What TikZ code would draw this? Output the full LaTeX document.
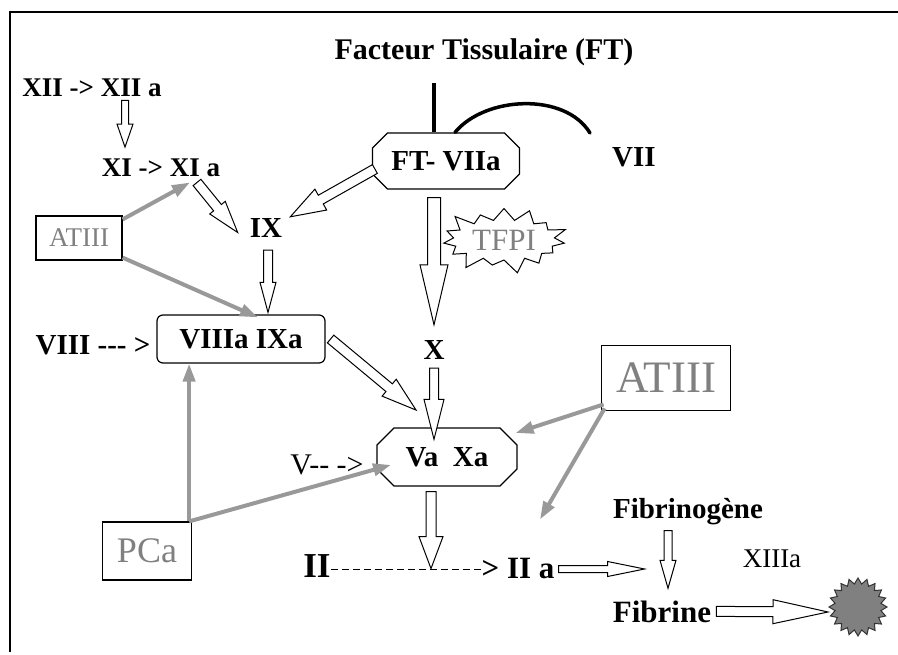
\documentclass[tikz,border=0pt]{standalone}
\usepackage{fontspec}
\setmainfont{Liberation Serif}
\usetikzlibrary{positioning, calc, arrows.meta, shapes.misc, shapes.symbols, shapes.geometric}

\newcommand\corps[1]{\fontsize{#1}{#1}\selectfont}
% fleche creuse : depart, arrivee, demi-tige, demi-tete, longueur tete
\newcommand\fleche[5]{%
  \coordinate (fa) at (#1);
  \coordinate (fb) at (#2);
  \coordinate (fh) at ($(fb)!#5pt!(fa)$);
  \draw[creux] ($(fa)!#3pt!90:(fb)$) -- ($(fh)!#3pt!90:(fb)$) -- ($(fh)!#4pt!90:(fb)$) -- (fb)
    -- ($(fh)!#4pt!-90:(fb)$) -- ($(fh)!#3pt!-90:(fb)$) -- ($(fa)!#3pt!-90:(fb)$) -- cycle;
}

\begin{document}
\begin{tikzpicture}[x=1pt, y=-1pt,
    lbl/.style={font=\bfseries\corps{29}, inner sep=0pt, anchor=base},
    fin/.style={font=\corps{27}, inner sep=0pt, anchor=base},
    boite/.style={draw, line width=1.2pt, inner sep=0pt},
    gris/.style={boite, text=black!50},
    coin/.style={boite, chamfered rectangle, font=\bfseries\corps{29}},
    creux/.style={draw, fill=white, line width=1pt, line join=miter},
    inhib/.style={draw=black!40, line width=4pt, -{Triangle[length=18pt, width=12pt]}},
    trait/.style={line width=3.5pt}]
        \useasboundingbox (0,0) rectangle (898,655);
        \draw[line width=1.2pt] (10,652) -- (10,12) -- (898,12);

        % voie extrinseque
        \node[lbl, font=\bfseries\corps{30}] (ft) at (484,60) {Facteur Tissulaire (FT)};
        \node[coin, chamfered rectangle xsep=6pt, chamfered rectangle ysep=9pt,
            minimum width=147pt, minimum height=56pt] (ftv) at (446,161) {FT- VIIa};
        \node[lbl] (vii) at (634,167) {VII};
        \node[starburst, draw, line width=1pt, starburst points=15, starburst point height=16pt,
            minimum width=118pt, minimum height=66pt, inner sep=4pt, text=black!50,
            font=\corps{31}] (tfpi) at (504,240) {TFPI};

        % voie intrinseque
        \node[lbl, font=\bfseries\corps{27}] (xii) at (92,97) {XII -> XII a};
        \node[lbl, font=\bfseries\corps{27}] (xi) at (161,177) {XI -> XI a};
        \node[gris, minimum width=86pt, minimum height=44pt, font=\corps{27}] (atsmall) at (79,238) {ATIII};
        \node[lbl] (ix) at (266,238) {IX};
        \node[boite, rounded corners=6pt, minimum width=168pt, minimum height=48pt,
            font=\bfseries\corps{29}] (viii) at (241,339) {VIIIa IXa};
        \node[lbl] (viiilbl) at (93,355) {VIII -{}-{}- >};
        \node[lbl] (x) at (434,360) {X};

        % prothrombinase
        \node[coin, chamfered rectangle xsep=8pt, chamfered rectangle ysep=9pt,
            minimum width=140pt, minimum height=58pt] (vaxa) at (447,457) {Va\enspace Xa};
        \node[lbl, font=\corps{30}] (vlbl) at (327,475) {V-{}- ->};
        \node[gris, minimum width=129pt, minimum height=65pt, line width=1.8pt,
            font=\corps{45}] (atbig) at (666,378) {ATIII};
        \node[gris, minimum width=89pt, minimum height=58pt, font=\corps{36}] (pca) at (147,551) {PCa};

        % thrombine et fibrine
        \node[lbl, font=\bfseries\corps{35}] (ii) at (317,577) {II};
        \node[lbl, font=\bfseries\corps{31}] (iia) at (518,578) {> II a};
        \node[lbl] (fibrinogene) at (688,518) {Fibrinog\`ene};
        \node[lbl, font=\bfseries\corps{31}] (fibrine) at (662,622) {Fibrine};
        \node[fin] (xiiia) at (772,567) {XIIIa};
        \node[star, star points=20, star point ratio=1.25, draw=black!80, fill=black!50,
            line width=1pt, minimum size=58pt, inner sep=0pt] (caillot) at (858,607) {};

        % liaisons
        \draw[trait] ([xshift=-12pt]ftv.north) -- ([xshift=-12pt,yshift=-16pt]ftv.north |- ft.south);
        \coordinate (arcfin) at (590,133);
        \draw[trait, line cap=round] ([xshift=9pt]ftv.north) .. controls (485,96) and (565,92) .. (arcfin);
        \draw[dash pattern=on 7pt off 4pt, line width=1.3pt] ([yshift=-4pt]ii.east) -- ([yshift=-4pt]ii.east -| iia.west);

        \fleche{$(xii.south)+(33,3)$}{$(xi.north)+(-36,-12)$}{3.5}{8}{23}
        \fleche{$(xi.south)+(36,5)$}{$(ix.west)+(-12,4)$}{5}{10}{32}
        \fleche{$(ftv.west)+(3,8)$}{$(ix.north east)+(8,-2)$}{5}{12}{35}
        \fleche{$(ix.south)+(2,12)$}{$(viii.north)+(27,-2)$}{4.5}{8}{30}
        \fleche{$(ftv.south)+(-12,8)$}{$(x.north)+(0,-16)$}{6.5}{14}{60}
        \fleche{$(x.south)+(0,8)$}{$(vaxa.north)+(-13,12)$}{4.5}{10}{40}
        \fleche{$(viii.east)+(5,0)$}{$(vaxa.north west)+(31,-26)$}{5}{11}{35}
        \fleche{$(vaxa.south)+(-16,5)$}{$(vaxa.south)+(-16,82)$}{5}{12}{32}
        \fleche{$(iia.east)+(4,1)$}{$(iia.east)+(90,1)$}{3.5}{7.5}{37}
        \fleche{$(fibrinogene.south)+(-20,6)$}{$(fibrine.north)+(6,-12)$}{4}{8}{28}
        \fleche{$(fibrine.east)+(5,0)$}{$(caillot.center)+(-30,5)$}{5}{12}{55}

        \draw[inhib] ([yshift=-4pt]atsmall.north east) -- ($(xi.south)+(29,5)$);
        \draw[inhib] ([yshift=3pt]atsmall.south east) -- ($(viii.north)+(17,3)$);
        \draw[inhib] ([xshift=-3pt]pca.north east) -- ([xshift=-3pt]pca.north east |- viii.south);
        \draw[inhib] ([xshift=-3pt]pca.north east) -- ($(vaxa.south west)+(6,-13)$);
        \draw[inhib] ([shift={(3pt,7pt)}]atbig.south west) -- ($(vaxa.east)+(-2,-24)$);
        \draw[inhib] ([shift={(4pt,3pt)}]atbig.south west) -- ($(iia.north)+(22,-38)$);
    \end{tikzpicture}
\end{document}
